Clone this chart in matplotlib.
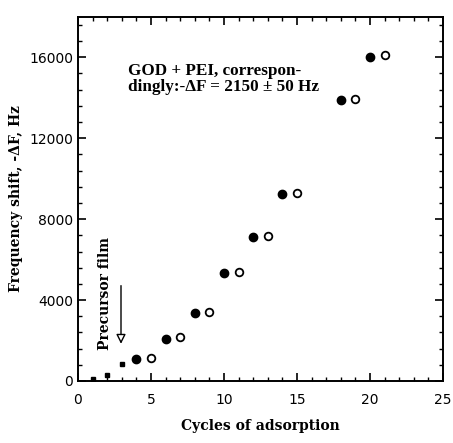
import matplotlib
matplotlib.use("Agg")
import matplotlib.pyplot as plt
from matplotlib.ticker import MultipleLocator

# precursor film cycles (small squares)
pre_x = [1, 2, 3]
pre_y = [110, 280, 820]
# GOD adsorption (filled circles)
god_x = [4, 6, 8, 10, 12, 14, 18, 20]
god_y = [1070, 2070, 3350, 5340, 7120, 9250, 13900, 16030]
# PEI adsorption (open circles)
pei_x = [5, 7, 9, 11, 13, 15, 19, 21]
pei_y = [1130, 2150, 3430, 5390, 7170, 9300, 13960, 16100]

serif = "DejaVu Serif"

fig = plt.figure(figsize=(4.53, 4.43), dpi=100)
ax = fig.add_axes([0.172, 0.140, 0.806, 0.822])

ax.plot(pre_x, pre_y, "s", color="black", markersize=3.5)
ax.plot(god_x, god_y, "o", color="black", markersize=6)
ax.plot(pei_x, pei_y, "o", markerfacecolor="white", markeredgecolor="black",
        markeredgewidth=1.3, markersize=5.5)

ax.set_xlim(0, 25)
ax.set_ylim(0, 18000)
ax.xaxis.set_major_locator(MultipleLocator(5))
ax.xaxis.set_minor_locator(MultipleLocator(1))
ax.yaxis.set_major_locator(MultipleLocator(4000))
ax.yaxis.set_minor_locator(MultipleLocator(800))
ax.tick_params(which="both", direction="in", top=True, right=True, labelsize=10)
ax.tick_params(which="major", length=6, width=1.2)
ax.tick_params(which="minor", length=3, width=1)
ax.tick_params(axis="x", pad=9)
for s in ax.spines.values():
    s.set_linewidth(1.4)

ax.set_xlabel("Cycles of adsorption", fontfamily=serif, fontweight="bold",
              fontsize=10, labelpad=8)
ax.set_ylabel("Frequency shift, -\u0394F, Hz", fontfamily=serif, fontweight="bold",
              fontsize=10, labelpad=4)

ax.text(3.4, 14950, "GOD + PEI, correspon-\ndingly:-\u0394F = 2150 \u00b1 50 Hz",
        fontfamily="Liberation Serif", fontweight="bold", fontsize=12.3,
        va="center", ha="left", linespacing=1.0)

ax.text(1.85, 4300, "Precursor film", rotation=90, fontfamily=serif,
        fontweight="bold", fontsize=10, ha="center", va="center")
ax.annotate("", xy=(2.95, 1700), xytext=(2.95, 4850),
            arrowprops=dict(arrowstyle="-|>", edgecolor="black", lw=1,
                            facecolor="white", mutation_scale=14))

fig.savefig("out.png", dpi=100)
